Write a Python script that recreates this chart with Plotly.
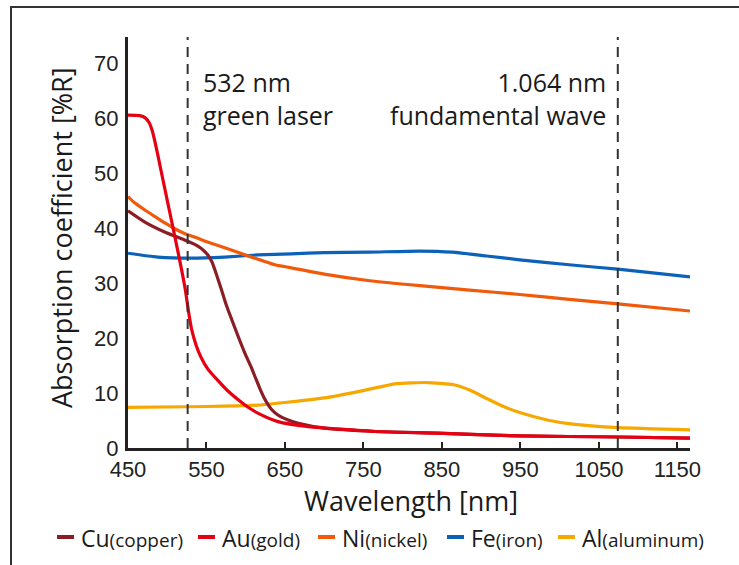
import plotly.graph_objects as go

# ---------------- data ----------------
cu_x = [450, 471, 496, 522, 535, 543, 551, 557, 563, 569, 575, 582, 590, 599, 606, 612, 618, 625, 633, 641, 654, 667, 701, 765, 843, 948, 1076, 1166]
cu_y = [43.1, 41.1, 39.3, 37.8, 37.0, 36.3, 35.2, 33.8, 31.4, 28.8, 26.1, 23.4, 20.4, 17.2, 15.0, 12.9, 10.8, 8.7, 7.0, 6.0, 5.1, 4.5, 3.6, 3.0, 2.7, 2.2, 2.0, 1.8]

au_x = [450, 465, 472, 477, 481, 486, 493, 500, 509, 518, 523, 527, 531, 537, 543, 552, 565, 577, 590, 603, 616, 641, 680, 765, 843, 948, 1076, 1166]
au_y = [60.5, 60.4, 60.0, 59.1, 57.6, 54.6, 49.8, 45.0, 38.9, 32.6, 28.8, 24.9, 21.6, 18.6, 16.5, 14.3, 12.2, 10.4, 8.8, 7.4, 6.3, 4.8, 3.9, 3.0, 2.7, 2.2, 2.0, 1.8]

ni_x = [450, 458, 471, 484, 497, 509, 522, 539, 556, 577, 599, 620, 637, 667, 700, 758, 822, 885, 949, 1012, 1074, 1166]
ni_y = [45.7, 44.6, 43.3, 42.1, 40.9, 39.9, 39.0, 38.1, 37.2, 36.2, 35.1, 34.1, 33.3, 32.5, 31.6, 30.4, 29.5, 28.7, 27.9, 27.0, 26.2, 24.9]

fe_x = [450, 488, 531, 573, 615, 658, 700, 758, 821, 863, 907, 949, 1012, 1074, 1166]
fe_y = [35.4, 34.7, 34.5, 34.7, 35.1, 35.3, 35.5, 35.6, 35.8, 35.6, 34.9, 34.2, 33.3, 32.5, 31.1]

al_x = [450, 526, 573, 616, 658, 700, 745, 771, 792, 831, 865, 886, 907, 929, 950, 984, 1014, 1075, 1167]
al_y = [7.4, 7.5, 7.6, 7.8, 8.4, 9.1, 10.3, 11.1, 11.7, 11.9, 11.5, 10.5, 9.0, 7.5, 6.4, 5.1, 4.4, 3.7, 3.3]

symbols = ["Cu", "Au", "Ni", "Fe", "Al"]
names = ["copper", "gold", "nickel", "iron", "aluminum"]
series_x = [cu_x, au_x, ni_x, fe_x, al_x]
series_y = [cu_y, au_y, ni_y, fe_y, al_y]
colors = ["#8b1e24", "#e60012", "#f05a0a", "#0c62b9", "#f7a800"]

laser_nm = [526, 1074]
laser_labels = ["532 nm<br>green laser", "1.064 nm<br>fundamental wave"]

x_ticks = [450, 550, 650, 750, 850, 950, 1050, 1150]
y_ticks = [0, 10, 20, 30, 40, 50, 60, 70]

# ---------------- layout geometry ----------------
W, H = 739, 565
L, R, T, B = 128, 49, 37, 117
PW, PH = W - L - R, H - T - B


def px(xp):
    return (xp - L) / PW


def py(yp):
    return (H - B - yp) / PH


fig = go.Figure()

# draw order: Al, Fe, Ni, Cu, Au
for i in [4, 3, 2, 0, 1]:
    fig.add_trace(go.Scatter(
        x=series_x[i], y=series_y[i], mode="lines",
        line=dict(color=colors[i], width=3.2, shape="spline", smoothing=0.5),
        name=symbols[i], showlegend=False, hoverinfo="skip"))

# dashed laser lines
for nm in laser_nm:
    fig.add_shape(type="line", xref="x", yref="paper", x0=nm, x1=nm, y0=0, y1=1,
                  line=dict(color="#333333", width=2, dash="10px,7px"), layer="above")

FONT = "Open Sans, DejaVu Sans, sans-serif"
annots = []
annots.append(dict(text=laser_labels[0], xref="paper", yref="paper", x=px(201), y=py(63),
                   xanchor="left", yanchor="top", align="left", showarrow=False,
                   font=dict(family=FONT, size=25, color="#1a1a1a")))
annots.append(dict(text=laser_labels[1], xref="paper", yref="paper", x=px(608), y=py(63),
                   xanchor="right", yanchor="top", align="right", showarrow=False,
                   font=dict(family=FONT, size=25, color="#1a1a1a")))
# axis titles
annots.append(dict(text="Wavelength [nm]", xref="paper", yref="paper", x=px(411), y=py(500),
                   xanchor="center", yanchor="middle", showarrow=False,
                   font=dict(family=FONT, size=27, color="#1a1a1a")))
annots.append(dict(text="Absorption coefficient [%R]", xref="paper", yref="paper", x=px(62), y=py(238),
                   xanchor="center", yanchor="middle", showarrow=False, textangle=-90,
                   font=dict(family=FONT, size=27, color="#1a1a1a")))

# legend (manual)
leg_x = [57, 198, 318, 447, 558]
leg_y = 537
for i in range(5):
    fig.add_shape(type="line", xref="paper", yref="paper",
                  x0=px(leg_x[i]), x1=px(leg_x[i] + 17), y0=py(leg_y), y1=py(leg_y),
                  line=dict(color=colors[i], width=4))
    annots.append(dict(
        text=f"{symbols[i]}<span style='font-size:19px'>({names[i]})</span>",
        xref="paper", yref="paper", x=px(leg_x[i] + 22), y=py(leg_y + 1),
        xanchor="left", yanchor="middle", showarrow=False,
        font=dict(family=FONT, size=23, color="#1a1a1a")))

# outer frame (left and top edges)
fig.add_shape(type="line", xref="paper", yref="paper", x0=px(11), x1=px(11), y0=py(7), y1=py(H + 5),
              line=dict(color="#333333", width=2))
fig.add_shape(type="line", xref="paper", yref="paper", x0=px(10), x1=px(W + 5), y0=py(7), y1=py(7),
              line=dict(color="#333333", width=2))

fig.update_layout(
    width=W, height=H,
    margin=dict(l=L, r=R, t=T, b=B, pad=0),
    paper_bgcolor="white", plot_bgcolor="white",
    showlegend=False,
    annotations=annots,
    xaxis=dict(range=[450, 1166], tickvals=x_ticks, ticktext=[str(v) for v in x_ticks],
               showgrid=False, zeroline=False, showline=True, linecolor="#222222", linewidth=3,
               ticks="inside", ticklen=6, tickwidth=2, tickcolor="#222222",
               tickfont=dict(family="Liberation Sans, Arial, sans-serif", size=22, color="#222222"),
               ticklabelstandoff=0),
    yaxis=dict(range=[0, 74.7], tickvals=y_ticks, ticktext=[str(v) for v in y_ticks],
               showgrid=False, zeroline=False, showline=True, linecolor="#222222", linewidth=3,
               ticks="", tickfont=dict(family="Liberation Sans, Arial, sans-serif", size=22, color="#222222"),
               ticklabelstandoff=2),
)

fig.write_html("out.html", config={"displayModeBar": False},
               post_script="document.body.style.margin='0';document.body.style.overflow='hidden';")
